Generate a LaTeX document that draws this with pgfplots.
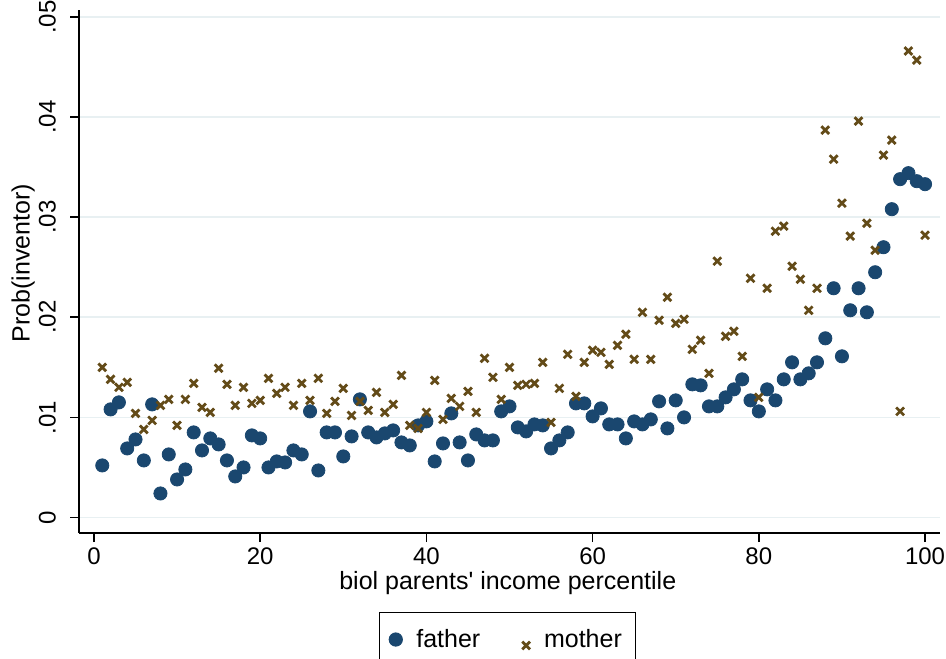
\documentclass[border=0pt]{standalone}
\usepackage{fontspec}
\setmainfont{Liberation Sans}[Ligatures=TeXOff]
\usepackage{pgfplots}
\usepackage{pgfplotstable}
\pgfplotsset{compat=1.18}
\definecolor{fathercol}{RGB}{26,71,111}
\definecolor{mothercol}{RGB}{99,75,24}
\definecolor{gridcol}{RGB}{232,240,242}
\pgfplotsset{
  pointleg/.style={legend image code/.code={\draw[##1] plot coordinates {(0bp,0bp)};}},
  crossleg/.style={legend image code/.code={\draw[##1] plot coordinates {(0bp,-3bp)};}},
}

\pgfplotstableread{
x y
1 0.0052
2 0.0108
3 0.0115
4 0.0069
5 0.0078
6 0.0057
7 0.0113
8 0.0024
9 0.0063
10 0.0038
11 0.0048
12 0.0085
13 0.0067
14 0.0079
15 0.0073
16 0.0057
17 0.0041
18 0.0050
19 0.0082
20 0.0079
21 0.0050
22 0.0056
23 0.0055
24 0.0067
25 0.0063
26 0.0106
27 0.0047
28 0.0085
29 0.0085
30 0.0061
31 0.0081
32 0.0118
33 0.0085
34 0.0080
35 0.0084
36 0.0087
37 0.0075
38 0.0072
39 0.0092
40 0.0096
41 0.0056
42 0.0074
43 0.0104
44 0.0075
45 0.0057
46 0.0083
47 0.0077
48 0.0077
49 0.0106
50 0.0111
51 0.0090
52 0.0086
53 0.0093
54 0.0092
55 0.0069
56 0.0077
57 0.0085
58 0.0114
59 0.0114
60 0.0101
61 0.0109
62 0.0093
63 0.0093
64 0.0079
65 0.0096
66 0.0093
67 0.0098
68 0.0116
69 0.0089
70 0.0117
71 0.0100
72 0.0133
73 0.0132
74 0.0111
75 0.0111
76 0.0120
77 0.0128
78 0.0138
79 0.0117
80 0.0106
81 0.0128
82 0.0117
83 0.0138
84 0.0155
85 0.0138
86 0.0144
87 0.0155
88 0.0179
89 0.0229
90 0.0161
91 0.0207
92 0.0229
93 0.0205
94 0.0245
95 0.0270
96 0.0308
97 0.0338
98 0.0344
99 0.0336
100 0.0333
}\fathertable

\pgfplotstableread{
x y
1 0.0150
2 0.0138
3 0.0130
4 0.0135
5 0.0104
6 0.0088
7 0.0097
8 0.0112
9 0.0118
10 0.0092
11 0.0118
12 0.0134
13 0.0110
14 0.0105
15 0.0149
16 0.0133
17 0.0112
18 0.0130
19 0.0114
20 0.0117
21 0.0139
22 0.0124
23 0.0130
24 0.0112
25 0.0134
26 0.0117
27 0.0139
28 0.0104
29 0.0116
30 0.0129
31 0.0102
32 0.0116
33 0.0107
34 0.0125
35 0.0105
36 0.0113
37 0.0142
38 0.0092
39 0.0089
40 0.0105
41 0.0137
42 0.0098
43 0.0119
44 0.0111
45 0.0126
46 0.0105
47 0.0159
48 0.0140
49 0.0118
50 0.0150
51 0.0132
52 0.0133
53 0.0134
54 0.0155
55 0.0095
56 0.0129
57 0.0163
58 0.0121
59 0.0155
60 0.0167
61 0.0165
62 0.0153
63 0.0172
64 0.0183
65 0.0158
66 0.0205
67 0.0158
68 0.0197
69 0.0220
70 0.0194
71 0.0198
72 0.0168
73 0.0177
74 0.0144
75 0.0256
76 0.0181
77 0.0186
78 0.0161
79 0.0239
80 0.0120
81 0.0229
82 0.0286
83 0.0291
84 0.0251
85 0.0238
86 0.0207
87 0.0229
88 0.0387
89 0.0358
90 0.0314
91 0.0281
92 0.0396
93 0.0294
94 0.0267
95 0.0362
96 0.0377
97 0.0106
98 0.0466
99 0.0457
100 0.0282
}\mothertable

\begin{document}
\begin{tikzpicture}
\path[use as bounding box] (0,0) rectangle (473bp,329.5bp);
\begin{axis}[
  at={(39.5bp,63bp)}, anchor=south west,
  scale only axis,
  width=430.5bp, height=261.5bp,
  xmin=-1.8, xmax=101.8,
  ymin=-0.00155, ymax=0.0507,
  scaled y ticks=false, scaled x ticks=false,
  axis x line*=bottom, axis y line*=left,
  axis line style={-, line width=0.8bp, black},
  tick align=outside,
  major tick length=4.5bp,
  tick style={line width=0.8bp, black},
  xtick={0,20,40,60,80,100},
  xticklabels={0,20,40,60,80,100},
  ytick={0,0.01,0.02,0.03,0.04,0.05},
  yticklabels={0,.01,.02,.03,.04,.05},
  minor tick num=0,
  ymajorgrids,
  grid style={gridcol, line width=0.8bp},
  tick label style={font=\fontsize{12bp}{14bp}\selectfont},
  yticklabel style={rotate=90, anchor=south, yshift=3.5bp},
  xticklabel style={anchor=north, yshift=0.5bp},
  xlabel={biol parents' income percentile},
  ylabel={Prob(inventor)},
  label style={font=\fontsize{12.5bp}{15bp}\selectfont},
  xlabel style={at={(axis description cs:0.498,-0.0956)}, anchor=center},
  ylabel style={at={(axis description cs:-0.0650,0.516)}, anchor=center, rotate=0},
  legend columns=2,
  legend style={at={(axis description cs:0.4977,-0.152)}, anchor=north,
    draw=black, line width=0.5bp, font=\fontsize{12.5bp}{15bp}\selectfont,
    inner xsep=5bp, inner ysep=6bp,
    /tikz/every odd column/.append style={column sep=5bp},
    /tikz/every even column/.append style={column sep=19bp}},
  clip=false,
]
\addplot[only marks, mark=*, mark size=3.3bp, fathercol, mark options={draw=fathercol, fill=fathercol}, pointleg]
  table[x=x, y=y] {\fathertable};
\addlegendentry{father}
\addplot[only marks, mark=x, mark size=2.75bp, mothercol, mark options={line width=1.4bp}, crossleg]
  table[x=x, y=y] {\mothertable};
\addlegendentry{mother}
\end{axis}
\end{tikzpicture}
\end{document}
